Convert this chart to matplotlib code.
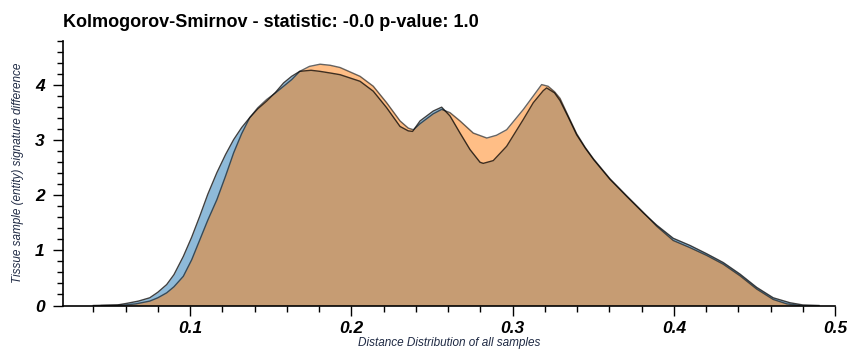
import matplotlib.pyplot as plt
from matplotlib.ticker import MultipleLocator

plt.rcParams['font.family'] = ['Liberation Sans', 'DejaVu Sans']

# density curves
x_blue = [0.040, 0.055, 0.061, 0.068, 0.075, 0.080, 0.0855, 0.090, 0.0958, 0.101,
          0.106, 0.111, 0.1166, 0.122, 0.127, 0.132, 0.137, 0.142, 0.1475, 0.153,
          0.158, 0.163, 0.168, 0.175, 0.1806, 0.187, 0.193, 0.2054, 0.2136, 0.2219,
          0.2302, 0.2353, 0.238, 0.2426, 0.2508, 0.256, 0.2612, 0.2674, 0.2736, 0.2798,
          0.2818, 0.288, 0.2963, 0.3067, 0.3128, 0.319, 0.3211, 0.326, 0.3294, 0.3345,
          0.3397, 0.345, 0.3502, 0.3604, 0.3708, 0.3811, 0.3893, 0.3996, 0.410, 0.4203,
          0.4306, 0.441, 0.4513, 0.4616, 0.472, 0.480, 0.490]
y_blue = [0.0, 0.01, 0.04, 0.08, 0.14, 0.24, 0.38, 0.56, 0.89, 1.24,
          1.62, 2.02, 2.41, 2.74, 3.01, 3.23, 3.41, 3.57, 3.71, 3.87,
          4.04, 4.16, 4.25, 4.27, 4.25, 4.22, 4.19, 4.07, 3.89, 3.59,
          3.25, 3.17, 3.16, 3.35, 3.53, 3.60, 3.44, 3.13, 2.83, 2.60,
          2.58, 2.63, 2.89, 3.38, 3.68, 3.90, 3.95, 3.86, 3.72, 3.42,
          3.10, 2.86, 2.65, 2.29, 1.98, 1.68, 1.46, 1.22, 1.09, 0.94,
          0.78, 0.57, 0.33, 0.14, 0.05, 0.01, 0.0]

x_orange = [0.045, 0.060, 0.0665, 0.075, 0.080, 0.0855, 0.090, 0.0958, 0.101, 0.106,
            0.111, 0.1166, 0.122, 0.127, 0.132, 0.137, 0.142, 0.1475, 0.153, 0.158,
            0.163, 0.168, 0.174, 0.1806, 0.187, 0.193, 0.2054, 0.2136, 0.2219, 0.2302,
            0.2353, 0.2385, 0.2426, 0.2508, 0.256, 0.2612, 0.2674, 0.2756, 0.284, 0.290,
            0.2963, 0.3067, 0.315, 0.318, 0.322, 0.326, 0.3294, 0.3345, 0.3397, 0.345,
            0.3502, 0.3604, 0.3708, 0.3811, 0.3893, 0.3996, 0.410, 0.4203, 0.4306, 0.441,
            0.4513, 0.4616, 0.470, 0.478]
y_orange = [0.0, 0.01, 0.03, 0.08, 0.14, 0.23, 0.34, 0.53, 0.83, 1.19,
            1.55, 1.92, 2.35, 2.77, 3.12, 3.41, 3.59, 3.74, 3.86, 3.98,
            4.10, 4.25, 4.34, 4.38, 4.36, 4.32, 4.16, 3.98, 3.68, 3.35,
            3.22, 3.19, 3.30, 3.48, 3.56, 3.50, 3.35, 3.13, 3.04, 3.09,
            3.19, 3.56, 3.89, 4.01, 3.98, 3.88, 3.76, 3.44, 3.12, 2.87,
            2.66, 2.30, 1.99, 1.69, 1.44, 1.18, 1.05, 0.91, 0.75, 0.54,
            0.30, 0.11, 0.03, 0.0]

fig = plt.figure(figsize=(8.47, 3.54), dpi=100)
ax = fig.add_axes([0.074, 0.137, 0.912, 0.747])

ax.fill_between(x_blue, y_blue, color='tab:blue', alpha=0.5, lw=0)
ax.plot(x_blue, y_blue, color='black', lw=1, alpha=0.75)
ax.fill_between(x_orange, y_orange, color='tab:orange', alpha=0.5, lw=0)
ax.plot(x_orange, y_orange, color='black', lw=1, alpha=0.6)

ax.set_xlim(0.021, 0.5)
ax.set_ylim(0, 4.8)
ax.xaxis.set_major_locator(MultipleLocator(0.1))
ax.xaxis.set_minor_locator(MultipleLocator(0.02))
ax.yaxis.set_major_locator(MultipleLocator(1))
ax.yaxis.set_minor_locator(MultipleLocator(0.2))
ax.set_xticks([0.1, 0.2, 0.3, 0.4, 0.5])
ax.set_xticklabels(['0.1', '0.2', '0.3', '0.4', '0.5'])
ax.tick_params(which='major', length=7, width=1, direction='out', labelsize=12.5, pad=4)
ax.tick_params(axis='y', which='major', pad=6)
ax.tick_params(which='minor', length=4, width=1, direction='out')
for lbl in ax.get_xticklabels() + ax.get_yticklabels():
    lbl.set_fontweight('bold')
    lbl.set_fontstyle('italic')

for s in ['top', 'right']:
    ax.spines[s].set_visible(False)
ax.spines['left'].set_linewidth(1.2)
ax.spines['bottom'].set_linewidth(1.2)

ax.set_xlabel('Distance Distribution of all samples', fontsize=8.5, style='italic',
              color='#1f2a44', labelpad=1)
ax.set_ylabel('Tissue sample (entity) signature difference', fontsize=8.5, style='italic',
              color='#1f2a44', labelpad=8)
ax.set_title('Kolmogorov-Smirnov - statistic: -0.0 p-value: 1.0', loc='left',
             fontsize=13, fontweight='bold', pad=10)

fig.savefig('out.png', dpi=100)
